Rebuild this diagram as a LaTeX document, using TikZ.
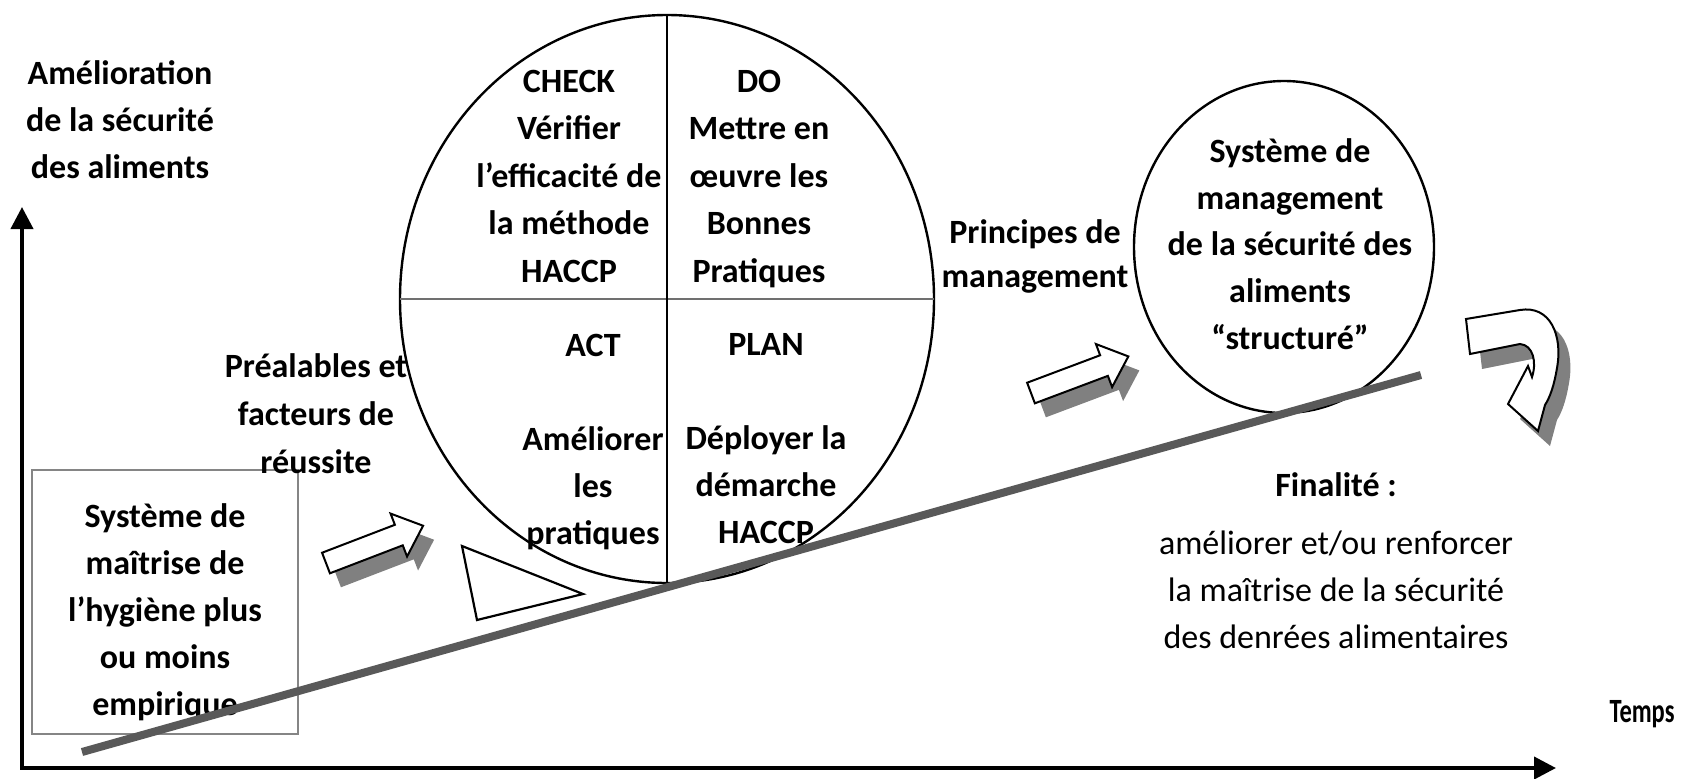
\documentclass[tikz,border=0pt]{standalone}
\usepackage{graphicx}
\usepackage{fontspec}
\setmainfont{Carlito}
\usetikzlibrary{arrows.meta,shapes.geometric}

\definecolor{shadowgray}{HTML}{808080}
\definecolor{bargray}{HTML}{595959}
\definecolor{framegray}{HTML}{858585}
\definecolor{splitgray}{HTML}{707070}

% straight block arrow, drawn along the local x axis from its tail centre
\newcommand\blkshape{(0,-11) -- (78,-11) -- (78,-23) -- (104,0) -- (78,23) -- (78,11) -- (0,11) -- cycle}
\newcommand\blkarrow[2]{%
  \begin{scope}[shift={#1}, shift={(11,14)}, rotate=#2]
    \fill[shadowgray] \blkshape;
  \end{scope}
  \begin{scope}[shift={#1}, rotate=#2]
    \filldraw[fill=white, draw=black, line width=1pt, line join=miter] \blkshape;
  \end{scope}}

% U-turn arrow
\newcommand\uturnshape{(1466,319) -- (1520,310)
  .. controls (1550,305) and (1563,335) .. (1557,368)
  .. controls (1554,386) and (1550,397) .. (1545,405)
  -- (1538,431) -- (1508,404) -- (1528,366) -- (1532,377)
  .. controls (1537,362) and (1533,345) .. (1520,344)
  -- (1470,354) -- cycle}

\begin{document}
\begin{tikzpicture}[x=0.5pt, y=-0.5pt,
  lbl/.style={align=center, inner sep=0pt,
    font=\fontsize{17}{#1}\selectfont\bfseries,
    execute at begin node=\strut, execute at end node=\strut},
  lbl/.default=23.5,
  axis/.style={line width=2pt, line join=miter,
    {Triangle[length=11pt,width=11pt]}-{Triangle[length=11pt,width=11pt]}},
  bubble/.style={ellipse, draw, line width=1.2pt, inner sep=0pt, outer sep=0pt},
  bar/.style={line width=4pt, bargray}]

\useasboundingbox (0,0) rectangle (1682,778);

% axes
\coordinate (O) at (22,768);
\coordinate (ytip) at (22,207);
\coordinate (xtip) at (1556,768);
\draw[axis] (ytip) -- (O) -- (xtip);
\node[lbl] (ylab) at (120,127) {Amélioration\\de la sécurité\\des aliments};
\node[lbl] (xlab) at (1642,713) {\scalebox{0.72}[1]{Temps}};

% starting point: empirical hygiene system
\node[draw=framegray, line width=1pt, minimum width=133pt, minimum height=132pt,
      inner sep=0pt] (hygbox) at (165,602) {};
\node[lbl] (hyg) at (165,617) {Système de\\maîtrise de\\l’hygiène plus\\ou moins\\empirique};

\node[lbl=24] (prea) at (316,421) {Préalables et\\facteurs de\\réussite};
\blkarrow{(326,563)}{21}

% wedge under the wheel
\draw[line width=1.1pt, fill=white, line join=miter] (462,546) -- (583,594) -- (477,620) -- cycle;

% PDCA wheel
\node[bubble, minimum width=267pt, minimum height=284pt] (pdca) at (667,299) {};
\draw[splitgray, line width=1.2pt] (pdca.west) -- (pdca.east);
\draw[line width=1pt] (pdca.north) -- (pdca.south);
\node[lbl=23.75] (check) at (569,183) {CHECK\\Vérifier\\l’efficacité de\\la méthode\\HACCP};
\node[lbl=23.75] (do) at (759,183) {DO\\Mettre en\\œuvre les\\Bonnes\\Pratiques};
\node[lbl] (act) at (593,446) {ACT\\\strut\\Améliorer\\les\\pratiques};
\node[lbl] (plan) at (766,446) {PLAN\\\strut\\Déployer la\\démarche\\HACCP};

% management principles
\node[lbl=22] (princ) at (1035,260) {Principes de\\management};
\blkarrow{(1031,393)}{20.6}

% structured management system
\node[bubble, minimum width=150pt, minimum height=166pt] (sms) at (1284,247) {};
\node[lbl=23.3] (smstxt) at (1290,251) {Système de\\management\\de la sécurité des\\aliments\\“structuré”};

% continual loop
\begin{scope}[shift={(12,15)}]
  \fill[shadowgray] \uturnshape;
\end{scope}
\filldraw[fill=white, draw=black, line width=1pt, line join=miter] \uturnshape;

\node[lbl] (fin) at (1336,568) {Finalité~:\\[5.5pt]\mdseries améliorer et/ou renforcer\\\mdseries la maîtrise de la sécurité\\\mdseries des denrées alimentaires};

% progress line
\coordinate (b0) at (82,752);
\coordinate (b1) at (1421,375);
\draw[bar] (b0) -- (b1);

\end{tikzpicture}
\end{document}
